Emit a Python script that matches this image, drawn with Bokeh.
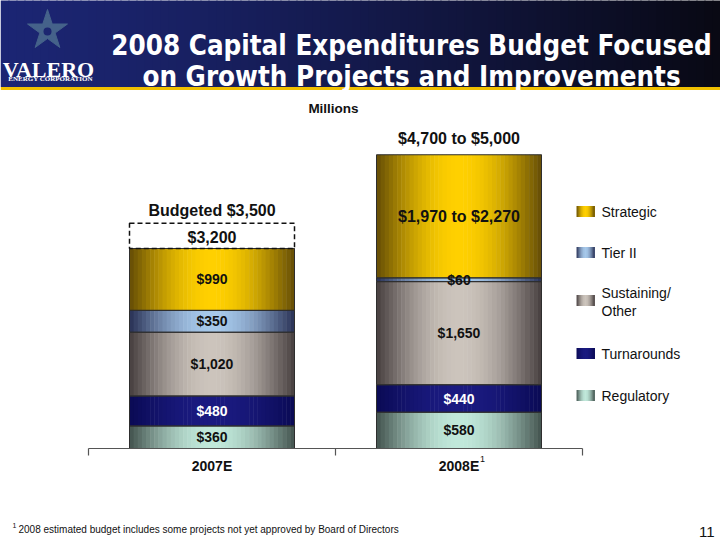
import numpy as np
from bokeh.plotting import figure
from bokeh.models import ColumnDataSource, Range1d, Label
from bokeh.core.properties import value
from bokeh.embed import file_html
from bokeh.resources import INLINE

# ---------------- data ----------------
categories = ["2007E", "2008E"]
series_names = ["Regulatory", "Turnarounds", "Sustaining/Other", "Tier II", "Strategic"]
regulatory = [360, 580]
turnarounds = [480, 440]
sustaining = [1020, 1650]
tier_ii = [350, 60]
strategic = [990, 1970]
strategic_high = [None, 2270]
totals_low = [3200, 4700]
totals_high = [None, 5000]
budgeted_2007 = 3500
legend_order = ["Strategic", "Tier II", "Sustaining/Other", "Turnarounds", "Regulatory"]
legend_texts = [["Strategic"], ["Tier II"], ["Sustaining/", "Other"], ["Turnarounds"], ["Regulatory"]]
title_lines = ["2008 Capital Expenditures Budget Focused", "on Growth Projects and Improvements"]
units_label = "Millions"
footnote = "2008 estimated budget includes some projects not yet approved by Board of Directors"
page_number = "11"

series_values = [regulatory, turnarounds, sustaining, tier_ii, strategic]

# ---------------- layout helpers (reference pixel -> data) ----------------
W, H = 720, 540
OFF = 0
AX_L = 88.0      # px of left category boundary
CAT_W = 247.0    # px per category
BASE = 448.0     # px of zero line
SCALE = 16.0     # $M per px
BAR_W = 165.0 / CAT_W


def dx(px):
    return (px - AX_L) / CAT_W


def dy(py):
    return (BASE - py) * SCALE


FONT = "Liberation Sans"

PAL = {
    "Regulatory": ((66, 82, 78), (192, 232, 218)),
    "Turnarounds": ((10, 10, 84), (26, 26, 128)),
    "Sustaining/Other": ((70, 62, 62), (204, 196, 188)),
    "Tier II": ((40, 48, 84), (166, 200, 234)),
    "Strategic": ((100, 76, 6), (255, 208, 0)),
}
TEXT_COL = {"Turnarounds": "white"}


def grad(edge, center, t, gamma=1.0):
    p = np.sin(np.pi * t) ** gamma
    return "#%02x%02x%02x" % tuple(int(round(e + (c - e) * p)) for e, c in zip(edge, center))


p = figure(width=W, height=H, x_range=Range1d(dx(OFF), dx(OFF + W)),
           y_range=Range1d(dy(OFF + H), dy(OFF)), output_backend="svg",
           toolbar_location=None, min_border=0, title=None,
           x_axis_location=None, y_axis_location=None)
p.grid.visible = False
p.outline_line_color = None
p.background_fill_color = "white"
p.border_fill_color = "white"

# ---------------- header band ----------------
NH = 90
hx = np.linspace(OFF, OFF + W, NH + 1)
hl, hr, hc = [], [], []
c_left, c_right = np.array([28, 38, 116]), np.array([9, 9, 20])
for j in range(NH):
    t = (j + 0.5) / NH
    c = c_left + (c_right - c_left) * (t ** 1.25)
    hl.append(dx(hx[j]))
    hr.append(dx(hx[j + 1]) + 0.004)
    hc.append("#%02x%02x%02x" % tuple(int(v) for v in c))
p.quad(left=hl, right=hr, bottom=dy(86.5), top=dy(OFF - 1), fill_color=hc, line_color=None)
p.quad(left=dx(OFF), right=dx(OFF + W), bottom=dy(89.5), top=dy(86.5),
       fill_color="#f0c000", line_color=None)

# logo
p.scatter(x=[dx(47)], y=[dy(30)], marker="star", size=42, fill_color="#45628a",
          line_color="#45628a")
p.scatter(x=[dx(47)], y=[dy(31)], marker="circle", size=8, fill_color="#1c2670",
          line_color=None)
p.add_layout(Label(x=dx(48), y=dy(69), text="VALERO", text_font="Liberation Serif",
                   text_font_style="bold", text_font_size="22px", text_color="white",
                   text_align="center", text_baseline="alphabetic"))
p.add_layout(Label(x=dx(50), y=dy(78), text="ENERGY CORPORATION", text_font="Liberation Serif",
                   text_font_style="bold", text_font_size="7px", text_color="white",
                   text_align="center", text_baseline="alphabetic"))

# title
for line, base_px in zip(title_lines, [44, 75]):
    p.add_layout(Label(x=dx(411), y=dy(base_px), text=line, text_font="DejaVu Sans Condensed",
                       text_font_style="bold", text_font_size="27.5px", text_color="white",
                       text_align="center", text_baseline="alphabetic"))

# ---------------- stacked bars with gradient strips ----------------
NS = 40
strips = dict(left=[], right=[], bottom=[], top=[], color=[])
segs = dict(left=[], right=[], bottom=[], top=[])
labels = dict(x=[], y=[], text=[], color=[], size=[])
for i, cat in enumerate(categories):
    xc = i + 0.5
    x0 = xc - BAR_W / 2
    base = 0
    for k, name in enumerate(series_names):
        v = series_values[k][i]
        top = base + v
        edge, center = PAL[name]
        for j in range(NS):
            t = (j + 0.5) / NS
            strips["left"].append(x0 + j * BAR_W / NS)
            strips["right"].append(x0 + (j + 1) * BAR_W / NS + 0.002)
            strips["bottom"].append(base)
            strips["top"].append(top)
            strips["color"].append(grad(edge, center, t))
        segs["left"].append(x0)
        segs["right"].append(x0 + BAR_W)
        segs["bottom"].append(base)
        segs["top"].append(top)
        if name == "Strategic" and strategic_high[i] is not None:
            txt = f"${v:,} to ${strategic_high[i]:,}"
            size = "16px"
        else:
            txt = f"${v:,}"
            size = "14px"
        labels["x"].append(xc)
        labels["y"].append((base + top) / 2)
        labels["text"].append(txt)
        labels["color"].append(TEXT_COL.get(name, "#111111"))
        labels["size"].append(size)
        base = top

p.quad(left="left", right="right", bottom="bottom", top="top", fill_color="color",
       line_color=None, source=ColumnDataSource(strips))
p.quad(left="left", right="right", bottom="bottom", top="top", fill_alpha=0,
       line_color="#2e2e2e", line_width=1, source=ColumnDataSource(segs))
p.text(x="x", y="y", text="text", text_color="color", text_font_size="size",
       text_font=value(FONT), text_font_style="bold", text_align="center",
       text_baseline="middle", source=ColumnDataSource(labels))

# totals
tot = dict(x=[], y=[], text=[])
for i, cat in enumerate(categories):
    if totals_high[i] is None:
        txt = f"${totals_low[i]:,}"
        pad = 11
    else:
        txt = f"${totals_low[i]:,} to ${totals_high[i]:,}"
        pad = 16
    tot["x"].append(i + 0.5)
    tot["y"].append(totals_low[i] + pad * SCALE)
    tot["text"].append(txt)
p.text(x="x", y="y", text="text", text_color="#111111", text_font_size="16px",
       text_font=value(FONT), text_font_style="bold", text_align="center",
       text_baseline="middle", source=ColumnDataSource(tot))

# budget dashed box for 2007
p.quad(left=[0.5 - BAR_W / 2], right=[0.5 + BAR_W / 2], bottom=[totals_low[0]],
       top=[budgeted_2007 + 6.5 * SCALE], fill_alpha=0, line_color="#111111",
       line_width=1.5, line_dash="5 3")
p.text(x=[0.5], y=[budgeted_2007 + 19 * SCALE], text=[f"Budgeted ${budgeted_2007:,}"],
       text_color="#111111", text_font_size="16px", text_font=value(FONT),
       text_font_style="bold", text_align="center", text_baseline="middle")

# ---------------- category axis ----------------
n = len(categories)
p.segment(x0=[0], y0=[0], x1=[n], y1=[0], line_color="#555555", line_width=1.2)
ticks = list(range(n + 1))
p.segment(x0=ticks, y0=[0] * len(ticks), x1=ticks, y1=[-7 * SCALE] * len(ticks),
          line_color="#555555", line_width=1.2)
p.text(x=[i + 0.5 for i in range(n)], y=[-17 * SCALE] * n, text=categories,
       text_color="#111111", text_font_size="14px", text_font=value(FONT),
       text_font_style="bold", text_align="center", text_baseline="middle")
p.text(x=[1.5 + 21 / CAT_W], y=[-10 * SCALE], text=["1"], text_color="#111111",
       text_font_size="9px", text_font=value(FONT), text_align="left",
       text_baseline="middle")

# units label
p.add_layout(Label(x=dx(333), y=dy(108), text=units_label, text_font=FONT,
                   text_font_style="bold", text_font_size="13.5px", text_color="#111111",
                   text_align="center", text_baseline="middle"))

# ---------------- legend ----------------
leg_centers_px = [211, 252, 300, 353, 395]
NL = 9
lg = dict(left=[], right=[], bottom=[], top=[], color=[])
for name, cy in zip(legend_order, leg_centers_px):
    edge, center = PAL[name]
    for j in range(NL):
        t = (j + 0.5) / NL
        lg["left"].append(dx(576 + j * 18 / NL))
        lg["right"].append(dx(576 + (j + 1) * 18 / NL) + 0.002)
        lg["bottom"].append(dy(cy + 5.5))
        lg["top"].append(dy(cy - 5.5))
        lg["color"].append(grad(edge, center, t))
p.quad(left="left", right="right", bottom="bottom", top="top", fill_color="color",
       line_color=None, source=ColumnDataSource(lg))
lt = dict(x=[], y=[], text=[])
for lines, cy in zip(legend_texts, leg_centers_px):
    if len(lines) == 1:
        offs = [0]
    else:
        offs = [-8, 10]
    for ln, o in zip(lines, offs):
        lt["x"].append(dx(601))
        lt["y"].append(dy(cy + o))
        lt["text"].append(ln)
p.text(x="x", y="y", text="text", text_color="#111111", text_font_size="14px",
       text_font=value(FONT), text_align="left", text_baseline="middle",
       source=ColumnDataSource(lt))

# ---------------- footnote & page number ----------------
p.add_layout(Label(x=dx(12), y=dy(525), text="1", text_font=FONT, text_font_size="7px",
                   text_color="#111111", text_align="left", text_baseline="middle"))
p.add_layout(Label(x=dx(18), y=dy(529), text=footnote, text_font=FONT,
                   text_font_size="10px", text_color="#111111", text_align="left",
                   text_baseline="middle"))
p.add_layout(Label(x=dx(714), y=dy(531), text=page_number, text_font=FONT,
                   text_font_size="15px", text_color="#111111", text_align="right",
                   text_baseline="middle"))

open("out.html", "w").write(file_html(p, INLINE))
